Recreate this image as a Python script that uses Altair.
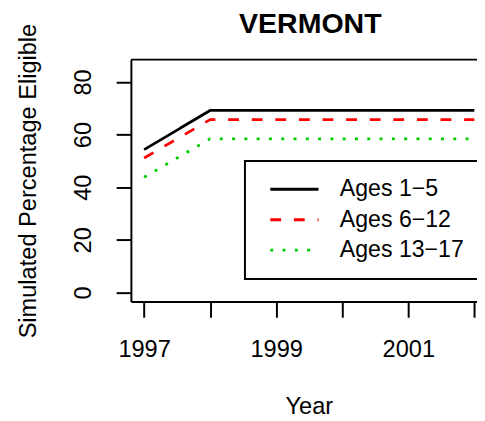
import altair as alt
import pandas as pd

years = [1997, 1998, 1999, 2000, 2001, 2002]
ages_1_5 = [54.3, 69.2, 69.2, 69.2, 69.2, 69.2]
ages_6_12 = [51.1, 65.7, 65.7, 65.7, 65.7, 65.7]
ages_13_17 = [43.8, 58.4, 58.4, 58.4, 58.4, 58.4]
groups = ["Ages 1\u22125", "Ages 6\u221212", "Ages 13\u221217"]
colors = ["#000000", "#FF0000", "#00CD00"]
dashes = [[1, 0], [11, 13], [3, 9.5]]
y_ticks = [0, 20, 40, 60, 80]
title_text = "VERMONT"

rows = []
for g, vals in zip(groups, [ages_1_5, ages_6_12, ages_13_17]):
    for yr, v in zip(years, vals):
        rows.append({"Year": yr, "Value": v, "Group": g})
df = pd.DataFrame(rows)

W, H = 352, 246
FONT = "Liberation Sans"

legend = alt.Legend(
    title=None, orient="none", legendX=116, legendY=103,
    strokeColor="black", fillColor="white", padding=17,
    labelFontSize=23.5, labelFont=FONT, labelColor="black",
    symbolType="M-5,0H5", symbolSize=96, symbolStrokeWidth=3,
    symbolOffset=21.5, labelOffset=34.5, rowPadding=6,
)

x_enc = alt.X("Year:Q",
    scale=alt.Scale(domain=[1996.8, 2002.04], nice=False, zero=False),
    axis=alt.Axis(values=years, format="d",
        labelExpr="datum.value % 2 == 1 ? datum.label : ''",
        tickSize=16, labelPadding=40, labelBaseline="alphabetic",
        labelFontSize=24, labelFlush=False, labelOverlap=False,
        title="Year", titleFontSize=24, titleFontWeight="normal",
        titleX=181, titleY=114, titleBaseline="alphabetic", titleAlign="center"))
y_enc = alt.Y("Value:Q",
    scale=alt.Scale(domain=[-3.44, 88.5], nice=False, zero=False),
    axis=alt.Axis(values=y_ticks, tickSize=15, labelAngle=270,
        labelAlign="center", labelBaseline="alphabetic", labelPadding=26,
        labelFontSize=24,
        title="Simulated Percentage Eligible", titleFontSize=24,
        titleFontWeight="normal", titleX=-97, titleY=123, titleAngle=270,
        titleBaseline="alphabetic", titleAlign="center"))

lines = alt.Chart(df).mark_line(strokeWidth=2.75, clip=True).encode(
    x=x_enc, y=y_enc,
    color=alt.Color("Group:N", scale=alt.Scale(domain=groups, range=colors),
                    sort=groups, legend=legend),
    strokeDash=alt.StrokeDash("Group:N", scale=alt.Scale(domain=groups, range=dashes),
                              sort=groups, legend=legend),
)

one = pd.DataFrame({"t": [title_text]})
top = alt.Chart(one).mark_rule(color="black", strokeWidth=2).encode(
    y=alt.value(0), x=alt.value(0), x2=alt.value(W))
title = alt.Chart(one).mark_text(
    font=FONT, fontSize=29, fontWeight="bold", color="black",
    align="center", baseline="alphabetic",
).encode(text="t:N", x=alt.value(W / 2 + 6.5), y=alt.value(-27))

chart = alt.layer(lines, top, title).properties(
    width=W, height=H,
    autosize=alt.AutoSizeParams(type="none"),
    padding={"left": 125, "top": 49, "right": 0, "bottom": 118},
).configure_view(stroke="transparent").configure_axis(
    domainColor="black", domainWidth=2, tickColor="black", tickWidth=2,
    grid=False, labelFont=FONT, titleFont=FONT, labelColor="black", titleColor="black",
).configure_legend(strokeWidth=2)

chart.save("out.html", embed_options={"renderer": "svg", "actions": False})
